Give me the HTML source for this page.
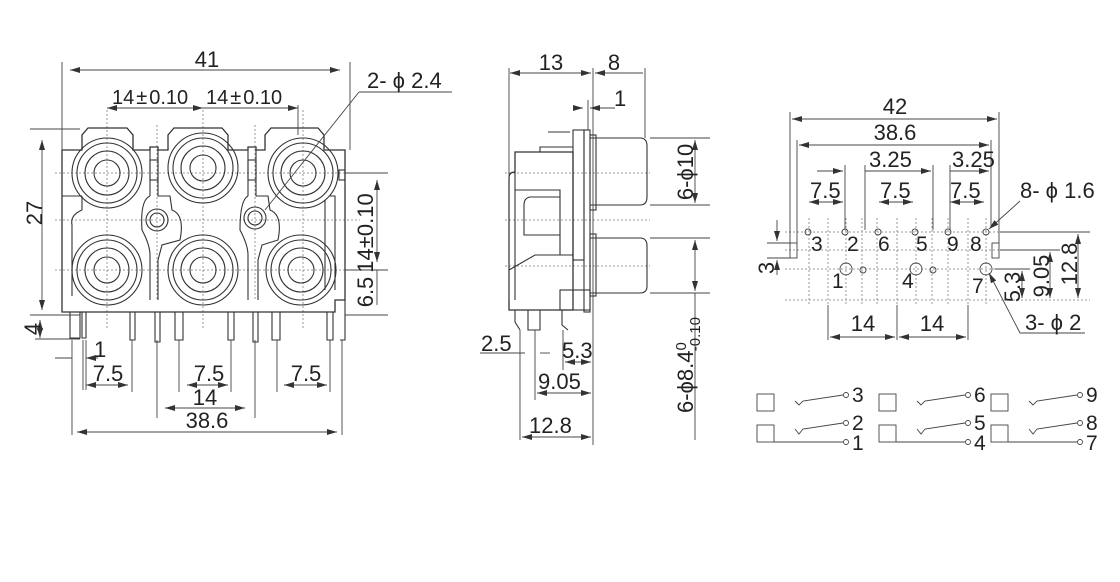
<!DOCTYPE html>
<html><head><meta charset="utf-8"><style>
html,body{margin:0;padding:0;background:#fff;width:1120px;height:582px;overflow:hidden}
svg{display:block}
text{font-family:"Liberation Sans",sans-serif;fill:#222}
</style></head><body>
<svg width="1120" height="582" viewBox="0 0 1120 582" xmlns="http://www.w3.org/2000/svg">
<defs>
<marker id="a" viewBox="0 0 10 6" refX="10" refY="3" markerWidth="10" markerHeight="6" orient="auto-start-reverse" markerUnits="userSpaceOnUse"><path d="M0,0 L10,3 L0,6 z" fill="#333"/></marker>
</defs>
<g stroke="#333" stroke-width="1.1" fill="none">
<!-- ===== FRONT VIEW ===== -->
<g stroke-dasharray="2,2" stroke="#999" stroke-width="1">
<line x1="55" y1="173" x2="360" y2="173"/><line x1="55" y1="220" x2="360" y2="220"/><line x1="55" y1="270" x2="360" y2="270"/>
<line x1="107" y1="110" x2="107" y2="330"/><line x1="203" y1="110" x2="203" y2="330"/><line x1="303" y1="110" x2="303" y2="330"/>
<line x1="157" y1="125" x2="157" y2="300"/><line x1="255" y1="125" x2="255" y2="300"/>
</g>
<path d="M62,150 L82,150 L82,135 L88,128 L127,128 L133,135 L133,150 L150,150 L150,147 L158,147 L158,150 L168,150 L168,135 L174,128 L222,128 L228,135 L228,150 L248,150 L248,147 L256,147 L256,150 L265,150 L265,135 L271,128 L318,128 L324,135 L324,150 L345,150 L345,300 L335,300 L335,312 L62,312 Z" stroke-width="1.3"/>
<line x1="62" y1="196" x2="82" y2="196"/><line x1="82" y1="196" x2="82" y2="210"/>
<path d="M82,210 Q70,215 72,225 L72,296 M150,150 L150,196 M158,150 L158,196 L170,196 L172,210 Q185,215 180,240 L162,245 L158,260 L158,300"/>
<path d="M248,150 L248,196 M256,150 L256,196 L268,196 L270,210 Q283,215 278,240 L262,245 L258,260 L258,300"/>
<path d="M150,196 Q140,200 142,230 Q150,245 150,255 L150,300 M248,196 Q240,200 240,230 Q248,245 248,255 L248,300"/>
<path d="M330,196 L335,196 L335,290 M325,200 L325,290"/>
<rect x="150" y="160" width="8" height="20"/><rect x="248" y="160" width="8" height="20"/>
<rect x="339" y="170" width="6" height="10"/>
<g>
<circle cx="107" cy="173" r="35"/><circle cx="107" cy="173" r="30"/><circle cx="107" cy="173" r="22"/><circle cx="107" cy="173" r="13"/>
<circle cx="203" cy="168" r="35"/><circle cx="203" cy="168" r="30"/><circle cx="203" cy="168" r="22"/><circle cx="203" cy="168" r="13"/>
<circle cx="303" cy="173" r="35"/><circle cx="303" cy="173" r="30"/><circle cx="303" cy="173" r="22"/><circle cx="303" cy="173" r="13"/>
<circle cx="107" cy="270" r="35"/><circle cx="107" cy="270" r="30"/><circle cx="107" cy="270" r="22"/><circle cx="107" cy="270" r="13"/>
<circle cx="203" cy="270" r="35"/><circle cx="203" cy="270" r="30"/><circle cx="203" cy="270" r="22"/><circle cx="203" cy="270" r="13"/>
<circle cx="301" cy="270" r="35"/><circle cx="301" cy="270" r="30"/><circle cx="301" cy="270" r="22"/><circle cx="301" cy="270" r="13"/>
<circle cx="157" cy="220" r="11"/><circle cx="157" cy="220" r="7"/>
<circle cx="255" cy="218" r="11"/><circle cx="255" cy="218" r="7"/>
</g>
<path d="M70,312 L70,338 L80,338 L80,312 M82,312 L82,338 L86,338 L86,312 M130,312 L130,340 L135,340 L135,312 M155,312 L155,342 L160,342 L160,312 M175,312 L175,340 L183,340 L183,312 M228,312 L228,340 L234,340 L234,312 M253,312 L253,342 L258,342 L258,312 M272,312 L272,340 L280,340 L280,312 M327,312 L327,340 L333,340 L333,312 M340,300 L345,300 L345,340 L340,340"/>
<g stroke-width="0.9" stroke="#444">
<line x1="62" y1="62" x2="62" y2="150"/><line x1="350" y1="62" x2="350" y2="150"/>
<line x1="70" y1="70" x2="340" y2="70" marker-start="url(#a)" marker-end="url(#a)"/>
<line x1="107" y1="108" x2="203" y2="108" marker-start="url(#a)" marker-end="url(#a)"/>
<line x1="203" y1="108" x2="298" y2="108" marker-end="url(#a)"/>
<line x1="298" y1="105" x2="298" y2="135"/>
<line x1="30" y1="129" x2="80" y2="129"/>
<line x1="42" y1="140" x2="42" y2="310" marker-start="url(#a)" marker-end="url(#a)"/>
<line x1="30" y1="315" x2="80" y2="315"/>
<line x1="40" y1="320" x2="40" y2="338" marker-start="url(#a)" marker-end="url(#a)"/><line x1="35" y1="339" x2="80" y2="339"/>
<line x1="345" y1="173" x2="388" y2="173"/><line x1="345" y1="315" x2="388" y2="315"/><line x1="345" y1="270" x2="388" y2="270"/>
<line x1="377" y1="180" x2="377" y2="262" marker-start="url(#a)" marker-end="url(#a)"/>
<line x1="377" y1="270" x2="377" y2="305"/>
<line x1="359" y1="92" x2="265" y2="210"/><line x1="359" y1="92" x2="452" y2="92"/>
<line x1="72" y1="340" x2="72" y2="435"/><line x1="83" y1="340" x2="83" y2="390"/><line x1="86" y1="340" x2="86" y2="390"/>
<line x1="132" y1="340" x2="132" y2="392"/><line x1="157" y1="340" x2="157" y2="418"/><line x1="179" y1="340" x2="179" y2="392"/>
<line x1="231" y1="340" x2="231" y2="392"/><line x1="255" y1="340" x2="255" y2="418"/><line x1="277" y1="340" x2="277" y2="392"/><line x1="330" y1="340" x2="330" y2="392"/><line x1="342" y1="340" x2="342" y2="435"/>
<line x1="55" y1="358" x2="72" y2="358"/><line x1="86" y1="358" x2="98" y2="358" marker-start="url(#a)"/>
<line x1="86" y1="385" x2="128" y2="385" marker-start="url(#a)" marker-end="url(#a)"/>
<line x1="187" y1="385" x2="228" y2="385" marker-start="url(#a)" marker-end="url(#a)"/>
<line x1="284" y1="385" x2="327" y2="385" marker-start="url(#a)" marker-end="url(#a)"/>
<line x1="165" y1="408" x2="245" y2="408" marker-start="url(#a)" marker-end="url(#a)"/>
<line x1="77" y1="432" x2="337" y2="432" marker-start="url(#a)" marker-end="url(#a)"/>
</g>

<!-- ===== SIDE VIEW ===== -->
<g stroke-dasharray="2,2" stroke="#999" stroke-width="1">
<line x1="505" y1="173" x2="650" y2="173"/><line x1="505" y1="220" x2="650" y2="220"/><line x1="505" y1="266" x2="650" y2="266"/>
</g>
<path d="M509,178 Q509,172 515,172 L515,152 L573,152 L573,310 L509,310 Z" stroke-width="1.3"/>
<path d="M515,172 L515,300 M515,190 L560,190 L560,255 M524,205 Q524,198 530,197 L560,197 M524,205 L524,235 L560,235 M509,270 L535,255 L573,255 M540,152 L540,147 L573,147 M548,132 L570,132"/>
<rect x="573" y="130" width="11" height="130"/><rect x="584" y="130" width="6" height="182"/>
<rect x="560" y="290" width="30" height="20"/>
<path d="M590,138 L640,138 Q647,138 647,146 L647,197 Q647,205 640,205 L590,205"/>
<path d="M590,238 L640,238 Q647,238 647,246 L647,286 Q647,293 640,293 L590,293"/>
<rect x="590" y="135" width="6" height="75"/><rect x="590" y="234" width="6" height="62"/>
<path d="M515,310 L515,322 L520,330 M528,310 L528,330 L540,330 L540,310 M562,310 L562,325 L568,330"/>
<g stroke-width="0.9" stroke="#444">
<line x1="509" y1="68" x2="509" y2="300"/><line x1="593" y1="68" x2="593" y2="445"/><line x1="645" y1="68" x2="645" y2="138"/>
<line x1="510" y1="73" x2="591" y2="73" marker-start="url(#a)" marker-end="url(#a)"/>
<line x1="595" y1="73" x2="643" y2="73" marker-start="url(#a)"/>
<line x1="573" y1="108" x2="583" y2="108" marker-end="url(#a)"/><line x1="590" y1="108" x2="615" y2="108" marker-start="url(#a)"/>
<line x1="588" y1="100" x2="588" y2="130"/>
<line x1="650" y1="138" x2="710" y2="138"/><line x1="650" y1="205" x2="710" y2="205"/>
<line x1="695" y1="140" x2="695" y2="203" marker-start="url(#a)" marker-end="url(#a)"/>
<line x1="650" y1="238" x2="710" y2="238"/><line x1="650" y1="293" x2="710" y2="293"/>
<line x1="695" y1="240" x2="695" y2="291" marker-start="url(#a)" marker-end="url(#a)"/>
<line x1="695" y1="293" x2="695" y2="440"/>
<line x1="520" y1="330" x2="520" y2="440"/><line x1="535" y1="330" x2="535" y2="400"/><line x1="563" y1="330" x2="563" y2="370"/>
<line x1="480" y1="353" x2="525" y2="353"/><line x1="540" y1="353" x2="550" y2="353"/>
<line x1="565" y1="362" x2="591" y2="362" marker-start="url(#a)" marker-end="url(#a)"/>
<line x1="537" y1="393" x2="591" y2="393" marker-start="url(#a)" marker-end="url(#a)"/>
<line x1="522" y1="437" x2="591" y2="437" marker-start="url(#a)" marker-end="url(#a)"/>
</g>

<!-- ===== PCB VIEW ===== -->
<g stroke-dasharray="2,2" stroke="#999" stroke-width="1">
<line x1="785" y1="232" x2="1000" y2="232"/><line x1="785" y1="250" x2="1000" y2="250"/><line x1="785" y1="269" x2="1000" y2="269"/><line x1="785" y1="300" x2="1090" y2="300"/>
<line x1="809" y1="218" x2="809" y2="305"/><line x1="828" y1="218" x2="828" y2="305"/><line x1="846" y1="218" x2="846" y2="305"/><line x1="862" y1="218" x2="862" y2="305"/><line x1="877" y1="218" x2="877" y2="305"/><line x1="897" y1="218" x2="897" y2="305"/><line x1="916" y1="218" x2="916" y2="305"/><line x1="932" y1="218" x2="932" y2="305"/><line x1="948" y1="218" x2="948" y2="305"/><line x1="968" y1="218" x2="968" y2="305"/><line x1="986" y1="218" x2="986" y2="305"/>
</g>
<g stroke="#444" stroke-width="0.9">
<circle cx="808" cy="232" r="3"/><circle cx="845" cy="232" r="3"/><circle cx="878" cy="232" r="3"/><circle cx="915" cy="232" r="3"/><circle cx="948" cy="232" r="3"/><circle cx="986" cy="232" r="3"/>
<circle cx="846" cy="269" r="6"/><circle cx="916" cy="269" r="6"/><circle cx="986" cy="269" r="6"/>
<circle cx="863" cy="270" r="3"/><circle cx="933" cy="270" r="3"/>
<rect x="790" y="243" width="7" height="15"/><rect x="992" y="243" width="7" height="15"/>
<line x1="790" y1="112" x2="790" y2="243"/><line x1="999" y1="112" x2="999" y2="243"/>
<line x1="792" y1="119" x2="997" y2="119" marker-start="url(#a)" marker-end="url(#a)"/>
<line x1="797" y1="140" x2="797" y2="243"/><line x1="991" y1="140" x2="991" y2="228"/>
<line x1="799" y1="145" x2="989" y2="145" marker-start="url(#a)" marker-end="url(#a)"/>
<line x1="865" y1="165" x2="865" y2="230"/><line x1="933" y1="165" x2="933" y2="230"/><line x1="845" y1="165" x2="845" y2="230"/><line x1="950" y1="165" x2="950" y2="230"/>
<line x1="865" y1="171" x2="931" y2="171" marker-end="url(#a)"/>
<line x1="950" y1="171" x2="989" y2="171" marker-end="url(#a)"/>
<line x1="817" y1="171" x2="843" y2="171" marker-end="url(#a)"/>
<line x1="809" y1="202" x2="843" y2="202" marker-start="url(#a)" marker-end="url(#a)"/>
<line x1="879" y1="202" x2="913" y2="202" marker-start="url(#a)" marker-end="url(#a)"/>
<line x1="950" y1="202" x2="984" y2="202" marker-start="url(#a)" marker-end="url(#a)"/>
<line x1="767" y1="243" x2="790" y2="243"/><line x1="767" y1="258" x2="790" y2="258"/>
<line x1="777" y1="220" x2="777" y2="241" marker-end="url(#a)"/><line x1="777" y1="260" x2="777" y2="275" marker-start="url(#a)"/>
<line x1="828" y1="305" x2="828" y2="340"/><line x1="897" y1="305" x2="897" y2="340"/><line x1="968" y1="305" x2="968" y2="340"/>
<line x1="830" y1="337" x2="895" y2="337" marker-start="url(#a)" marker-end="url(#a)"/>
<line x1="899" y1="337" x2="966" y2="337" marker-start="url(#a)" marker-end="url(#a)"/>
<line x1="1000" y1="232" x2="1090" y2="232"/><line x1="1000" y1="250" x2="1060" y2="250"/><line x1="995" y1="269" x2="1030" y2="269"/>
<line x1="1078" y1="234" x2="1078" y2="298" marker-start="url(#a)" marker-end="url(#a)"/>
<line x1="1050" y1="252" x2="1050" y2="298" marker-start="url(#a)" marker-end="url(#a)"/>
<line x1="1022" y1="271" x2="1022" y2="298" marker-start="url(#a)" marker-end="url(#a)"/>
<line x1="1020" y1="201" x2="989" y2="229" marker-end="url(#a)"/>
<line x1="1020" y1="333" x2="989" y2="273" marker-end="url(#a)"/><line x1="1020" y1="333" x2="1085" y2="333"/>
</g>

<g stroke="#444" stroke-width="0.9">
<rect x="757" y="394" width="17" height="17"/><rect x="757" y="425" width="17" height="17"/><path d="M774,442 L843,442"/>
<path d="M795,401 L799,405 L803,401 L843,395 M795,429 L799,434 L803,429 L843,423"/>
<circle cx="846" cy="395" r="2.5"/><circle cx="846" cy="423" r="2.5"/><circle cx="846" cy="442" r="2.5"/>
<rect x="879" y="394" width="17" height="17"/><rect x="879" y="425" width="17" height="17"/><path d="M896,442 L965,442"/>
<path d="M917,401 L921,405 L925,401 L965,395 M917,429 L921,434 L925,429 L965,423"/>
<circle cx="968" cy="395" r="2.5"/><circle cx="968" cy="423" r="2.5"/><circle cx="968" cy="442" r="2.5"/>
<rect x="991" y="394" width="17" height="17"/><rect x="991" y="425" width="17" height="17"/><path d="M1008,442 L1077,442"/>
<path d="M1029,401 L1033,405 L1037,401 L1077,395 M1029,429 L1033,434 L1037,429 L1077,423"/>
<circle cx="1080" cy="395" r="2.5"/><circle cx="1080" cy="423" r="2.5"/><circle cx="1080" cy="442" r="2.5"/>
</g>
</g>

<!-- TEXT -->
<g font-size="22">
<text x="207" y="67" text-anchor="middle">41</text>
<text x="112" y="104" font-size="20">14<tspan dx="2">±</tspan><tspan dx="2">0.10</tspan></text>
<text x="206" y="104" font-size="20">14<tspan dx="2">±</tspan><tspan dx="2">0.10</tspan></text>
<text x="367" y="88">2- ϕ 2.4</text>
<text transform="translate(42,213) rotate(-90)" text-anchor="middle">27</text>
<text transform="translate(373,233) rotate(-90)" text-anchor="middle">14±0.10</text>
<text transform="translate(373,292) rotate(-90)" text-anchor="middle">6.5</text>
<text transform="translate(40,329) rotate(-90)" text-anchor="middle">4</text>
<text x="94" y="357">1</text>
<text x="108" y="381" text-anchor="middle">7.5</text>
<text x="209" y="381" text-anchor="middle">7.5</text>
<text x="306" y="381" text-anchor="middle">7.5</text>
<text x="205" y="405" text-anchor="middle">14</text>
<text x="207" y="428" text-anchor="middle">38.6</text>

<text x="551" y="70" text-anchor="middle">13</text>
<text x="614" y="70" text-anchor="middle">8</text>
<text x="614" y="106">1</text>
<text transform="translate(693,172) rotate(-90)" text-anchor="middle">6-ϕ10</text>
<text transform="translate(693,365) rotate(-90)" text-anchor="middle">6-ϕ8.4<tspan font-size="15" dy="-7">0</tspan><tspan font-size="15" dy="14" dx="-9">-0.10</tspan></text>
<text x="481" y="351">2.5</text>
<text x="562" y="358">5.3</text>
<text x="538" y="389">9.05</text>
<text x="529" y="433">12.8</text>

<text x="895" y="114" text-anchor="middle">42</text>
<text x="895" y="140" text-anchor="middle">38.6</text>
<text x="869" y="167">3.25</text>
<text x="952" y="167">3.25</text>
<text x="810" y="198">7.5</text>
<text x="880" y="198">7.5</text>
<text x="950" y="198">7.5</text>
<text x="1020" y="198">8- ϕ 1.6</text>
<g font-size="21">
<text x="811" y="251">3</text><text x="847" y="251">2</text><text x="878" y="251">6</text><text x="916" y="251">5</text><text x="947" y="251">9</text><text x="970" y="251">8</text>
<text x="832" y="288">1</text><text x="902" y="288">4</text><text x="972" y="293">7</text>
</g>
<text transform="translate(774,268) rotate(-90)" text-anchor="middle">3</text>
<text transform="translate(1020,287) rotate(-90)" text-anchor="middle">5.3</text>
<text transform="translate(1049,276) rotate(-90)" text-anchor="middle">9.05</text>
<text transform="translate(1077,264) rotate(-90)" text-anchor="middle">12.8</text>
<text x="863" y="331" text-anchor="middle">14</text>
<text x="932" y="331" text-anchor="middle">14</text>
<text x="1025" y="330">3- ϕ 2</text>
<g font-size="21">
<text x="852" y="402">3</text><text x="852" y="430">2</text><text x="852" y="450">1</text>
<text x="974" y="402">6</text><text x="974" y="430">5</text><text x="974" y="450">4</text>
<text x="1086" y="402">9</text><text x="1086" y="430">8</text><text x="1086" y="450">7</text>
</g>
</g>
</svg>
</body></html>
